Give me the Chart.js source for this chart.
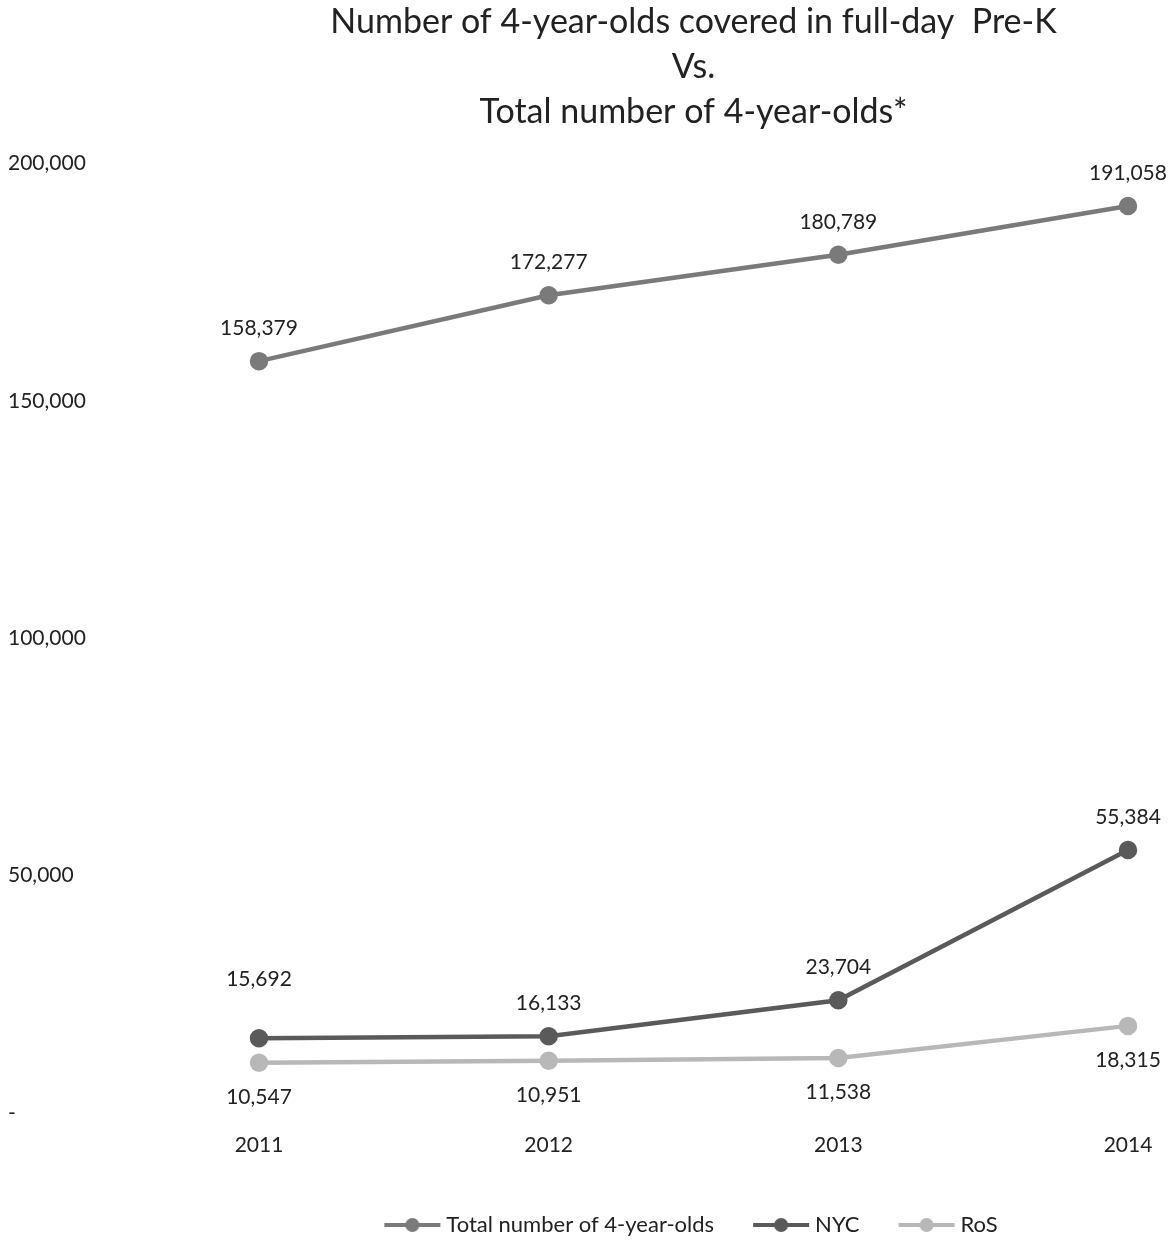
<!DOCTYPE html>
<html>
<head>
<meta charset="utf-8">
<script src="https://cdn.jsdelivr.net/npm/chart.js@4"></script>
<style>
  body { margin: 0; background: #fff; }
  #wrap { width: 1176px; height: 1240px; }
</style>
</head>
<body>
<div id="wrap"><canvas id="grafico"></canvas></div>
<script>
const years = ['2011', '2012', '2013', '2014'];
const totalKids = [158379, 172277, 180789, 191058];
const nycKids = [15692, 16133, 23704, 55384];
const rosKids = [10547, 10951, 11538, 18315];
const titleLines = ['Number of 4-year-olds covered in full-day  Pre-K', 'Vs.', 'Total number of 4-year-olds*'];

const FONT = 'Lato, "Open Sans", sans-serif';
const fmt = n => n.toLocaleString('en-US');

// legend symbol: short line with a dot in the middle
function legendSymbol(color) {
    const c = document.createElement('canvas');
    c.width = 58; c.height = 16;
    const ctx = c.getContext('2d');
    ctx.strokeStyle = color;
    ctx.lineWidth = 4;
    ctx.beginPath(); ctx.moveTo(1, 8); ctx.lineTo(57, 8); ctx.stroke();
    ctx.fillStyle = color;
    ctx.beginPath(); ctx.arc(29, 8, 7, 0, Math.PI * 2); ctx.fill();
    return c;
}

// value labels above / below the points
const valueLabels = {
    id: 'valueLabels',
    afterDatasetsDraw(chart) {
        const ctx = chart.ctx;
        ctx.save();
        ctx.font = '21px ' + FONT;
        ctx.fillStyle = '#222';
        ctx.textAlign = 'center';
        ctx.textBaseline = 'middle';
        chart.data.datasets.forEach((ds, i) => {
            const meta = chart.getDatasetMeta(i);
            meta.data.forEach((pt, j) => {
                let off = ds.labelBelow ? 34 : -33;
                if (ds.labelExtra && ds.labelExtra[j]) off -= ds.labelExtra[j];
                ctx.fillText(fmt(ds.data[j]), pt.x, pt.y + off);
            });
        });
        ctx.restore();
    }
};

const colTotal = '#7a7a7a';
const colNyc = '#5a5a5a';
const colRos = '#b8b8b8';

new Chart(document.getElementById('grafico'), {
    type: 'line',
    data: {
        labels: years,
        datasets: [
            { label: 'Total number of 4-year-olds', data: totalKids, borderColor: colTotal, backgroundColor: colTotal,
              borderWidth: 4.5, pointRadius: 7, pointHoverRadius: 7, legendColor: colTotal },
            { label: 'NYC', data: nycKids, borderColor: colNyc, backgroundColor: colNyc,
              borderWidth: 4.5, pointRadius: 7, pointHoverRadius: 7, legendColor: colNyc, labelExtra: [26, 0, 0, 0] },
            { label: 'RoS', data: rosKids, borderColor: colRos, backgroundColor: colRos,
              borderWidth: 4.5, pointRadius: 7, pointHoverRadius: 7, legendColor: colRos, labelBelow: true }
        ]
    },
    options: {
        responsive: true,
        maintainAspectRatio: false,
        animation: false,
        layout: { padding: { left: 8, right: 48, top: 0, bottom: -6 } },
        plugins: {
            title: {
                display: true,
                fullSize: false,
                text: titleLines,
                color: '#222',
                font: { family: FONT, size: 34, weight: 'normal', lineHeight: 1.32 },
                padding: { top: 0, bottom: 29 }
            },
            legend: {
                position: 'bottom',
                fullSize: false,
                labels: {
                    color: '#222',
                    font: { family: FONT, size: 22 },
                    usePointStyle: true,
                    pointStyleWidth: 46,
                    boxHeight: 16,
                    padding: 44,
                    generateLabels(chart) {
                        const items = Chart.defaults.plugins.legend.labels.generateLabels(chart);
                        items.forEach(it => {
                            it.pointStyle = legendSymbol(chart.data.datasets[it.datasetIndex].legendColor);
                        });
                        return items;
                    }
                }
            },
            tooltip: { enabled: false }
        },
        scales: {
            x: {
                offset: false,
                grid: { display: false },
                border: { display: false },
                ticks: { color: '#222', font: { family: FONT, size: 21 }, padding: 12, maxRotation: 0 }
            },
            y: {
                min: 0,
                max: 200000,
                grid: { display: false },
                border: { display: false },
                afterFit(scale) { scale.width = 251; },
                ticks: {
                    stepSize: 50000,
                    crossAlign: 'far',
                    color: '#222',
                    font: { family: FONT, size: 21 },
                    callback: v => v === 0 ? '-' : fmt(v)
                }
            }
        }
    },
    plugins: [valueLabels]
});
</script>
</body>
</html>
